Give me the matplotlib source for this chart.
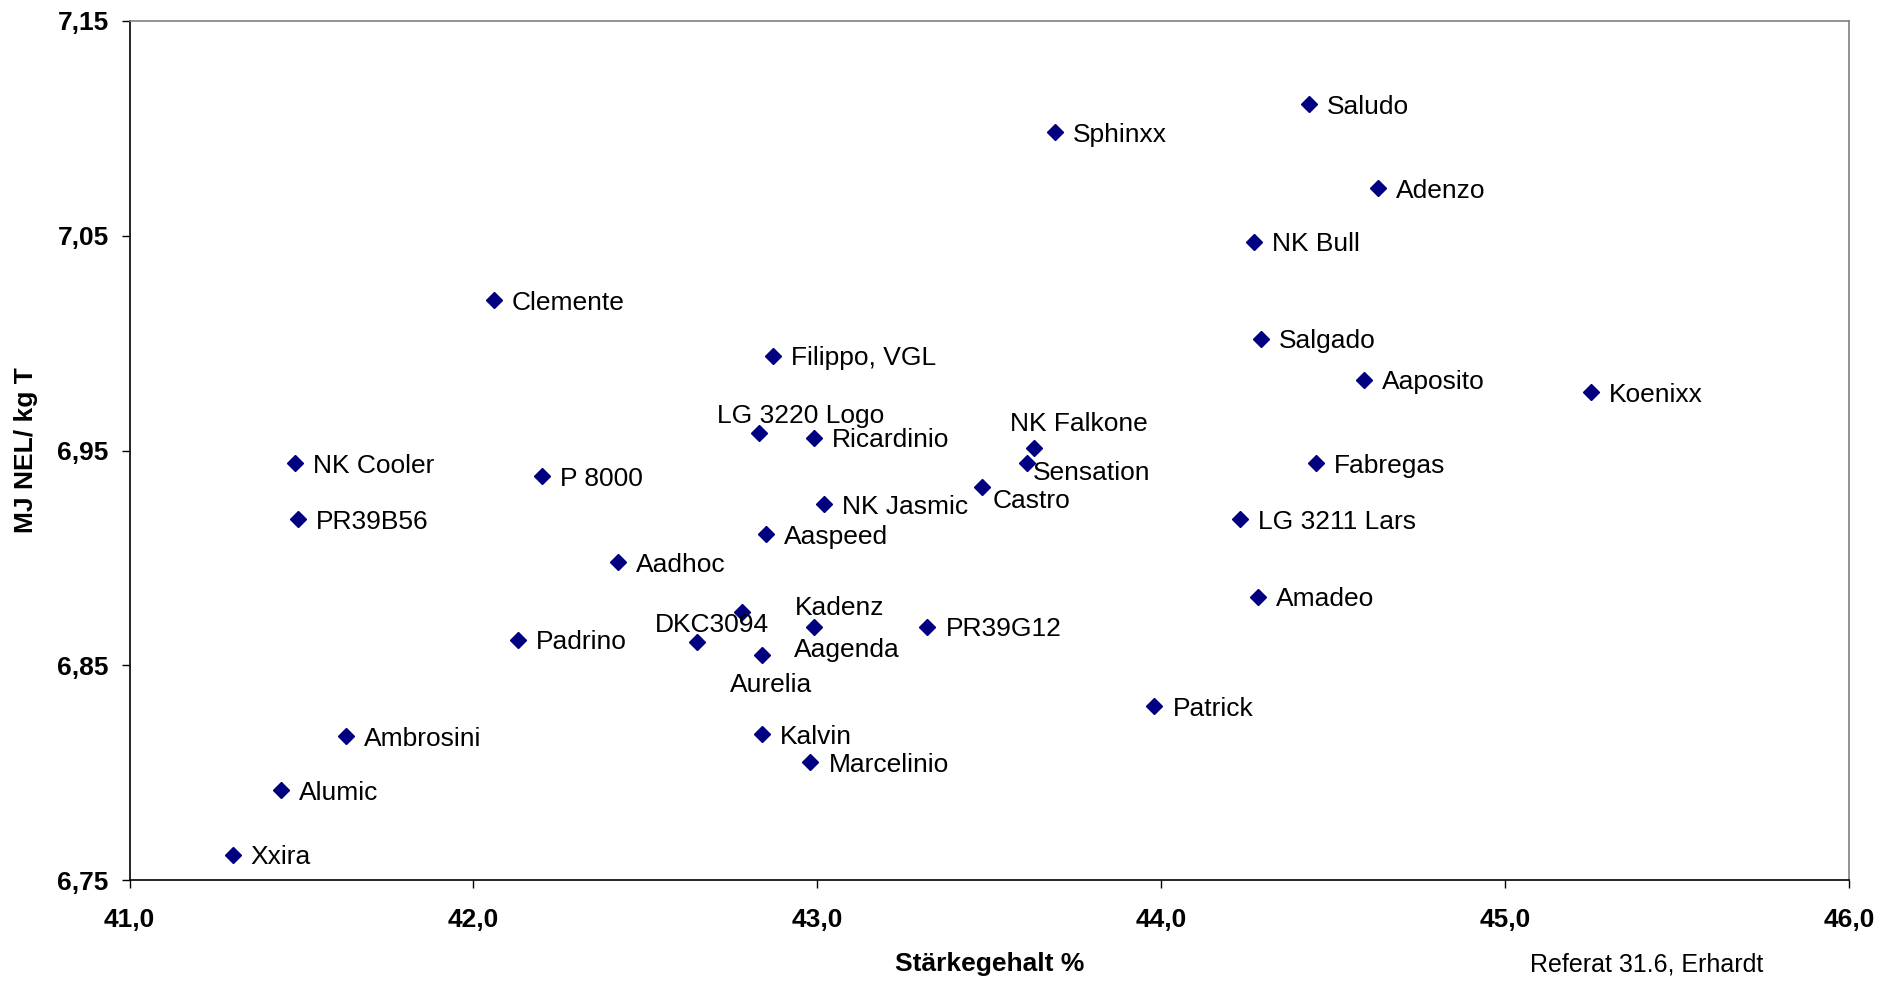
import matplotlib
matplotlib.use("Agg")
import matplotlib.pyplot as plt
from matplotlib.ticker import FuncFormatter

plt.rcParams['font.family'] = ['Liberation Sans', 'DejaVu Sans']

# Sorten: Stärkegehalt (%) und Energie (MJ NEL/kg T)
sorten = ["Saludo", "Sphinxx", "Adenzo", "NK Bull", "Clemente", "Salgado",
          "Filippo, VGL", "Aaposito", "Koenixx", "LG 3220 Logo", "Ricardinio",
          "NK Falkone", "Sensation", "NK Cooler", "Fabregas", "P 8000", "Castro",
          "NK Jasmic", "PR39B56", "LG 3211 Lars", "Aaspeed", "Aadhoc", "Amadeo",
          "DKC3094", "Kadenz", "Aagenda", "Aurelia", "PR39G12", "Padrino",
          "Patrick", "Kalvin", "Ambrosini", "Marcelinio", "Alumic", "Xxira"]
staerke = [44.43, 43.69, 44.63, 44.27, 42.06, 44.29,
           42.87, 44.59, 45.25, 42.83, 42.99,
           43.63, 43.61, 41.48, 44.45, 42.20, 43.48,
           43.02, 41.49, 44.23, 42.85, 42.42, 44.28,
           42.65, 42.99, 42.78, 42.84, 43.32, 42.13,
           43.98, 42.84, 41.63, 42.98, 41.44, 41.30]
nel = [7.111, 7.098, 7.072, 7.047, 7.020, 7.002,
       6.994, 6.983, 6.977, 6.958, 6.956,
       6.951, 6.944, 6.944, 6.944, 6.938, 6.933,
       6.925, 6.918, 6.918, 6.911, 6.898, 6.882,
       6.861, 6.868, 6.875, 6.855, 6.868, 6.862,
       6.831, 6.818, 6.817, 6.805, 6.792, 6.762]

x_ticks = [41, 42, 43, 44, 45, 46]
y_ticks = [6.75, 6.85, 6.95, 7.05, 7.15]

# Beschriftungen, die nicht rechts neben dem Punkt stehen (Versatz in pt)
versatz = {
    "LG 3220 Logo": (-30, 14),
    "NK Falkone": (-17, 19),
    "Sensation": (4, -5),
    "Castro": (7, -8),
    "DKC3094": (-30, 14),
    "Kadenz": (-14, 15),
    "Aagenda": (38, -26),
    "Aurelia": (-23, -20),
}

fig = plt.figure(figsize=(18.99, 9.84), dpi=100)
ax = fig.add_axes([0.0682, 0.1053, 0.9055, 0.8737])

ax.plot(staerke, nel, linestyle='none', marker='D', markersize=8,
        color='#000080', markeredgecolor='#000080')

cap = 19 * 0.358
for name, x, y in zip(sorten, staerke, nel):
    dx, dy = versatz.get(name, (13, 0))
    ax.annotate(name, (x, y), xytext=(dx, dy - cap), textcoords='offset points',
                ha='left', va='baseline', fontsize=19, color='black')

ax.set_xlim(41, 46)
ax.set_ylim(6.75, 7.15)
ax.set_xticks(x_ticks)
ax.set_yticks(y_ticks)
ax.xaxis.set_major_formatter(FuncFormatter(lambda v, p: f"{v:.1f}".replace('.', ',')))
ax.yaxis.set_major_formatter(FuncFormatter(lambda v, p: f"{v:.2f}".replace('.', ',')))
ax.tick_params(direction='out', length=6, width=1, labelsize=19)
ax.tick_params(axis='x', pad=14)
ax.tick_params(axis='y', pad=9)
for lab in ax.get_xticklabels() + ax.get_yticklabels():
    lab.set_fontweight('bold')

ax.spines['left'].set_color('black')
ax.spines['bottom'].set_color('black')
ax.spines['top'].set_color('#808080')
ax.spines['right'].set_color('#808080')
for s in ax.spines.values():
    s.set_linewidth(1.2)

ax.set_xlabel("Stärkegehalt %", fontsize=19, fontweight='bold', labelpad=14)
ax.set_ylabel("MJ NEL/ kg T", fontsize=19, fontweight='bold', labelpad=14)

fig.text(0.867, 0.013, "Referat 31.6, Erhardt", fontsize=18, ha='center', va='baseline')

fig.savefig("out.png", dpi=100)
